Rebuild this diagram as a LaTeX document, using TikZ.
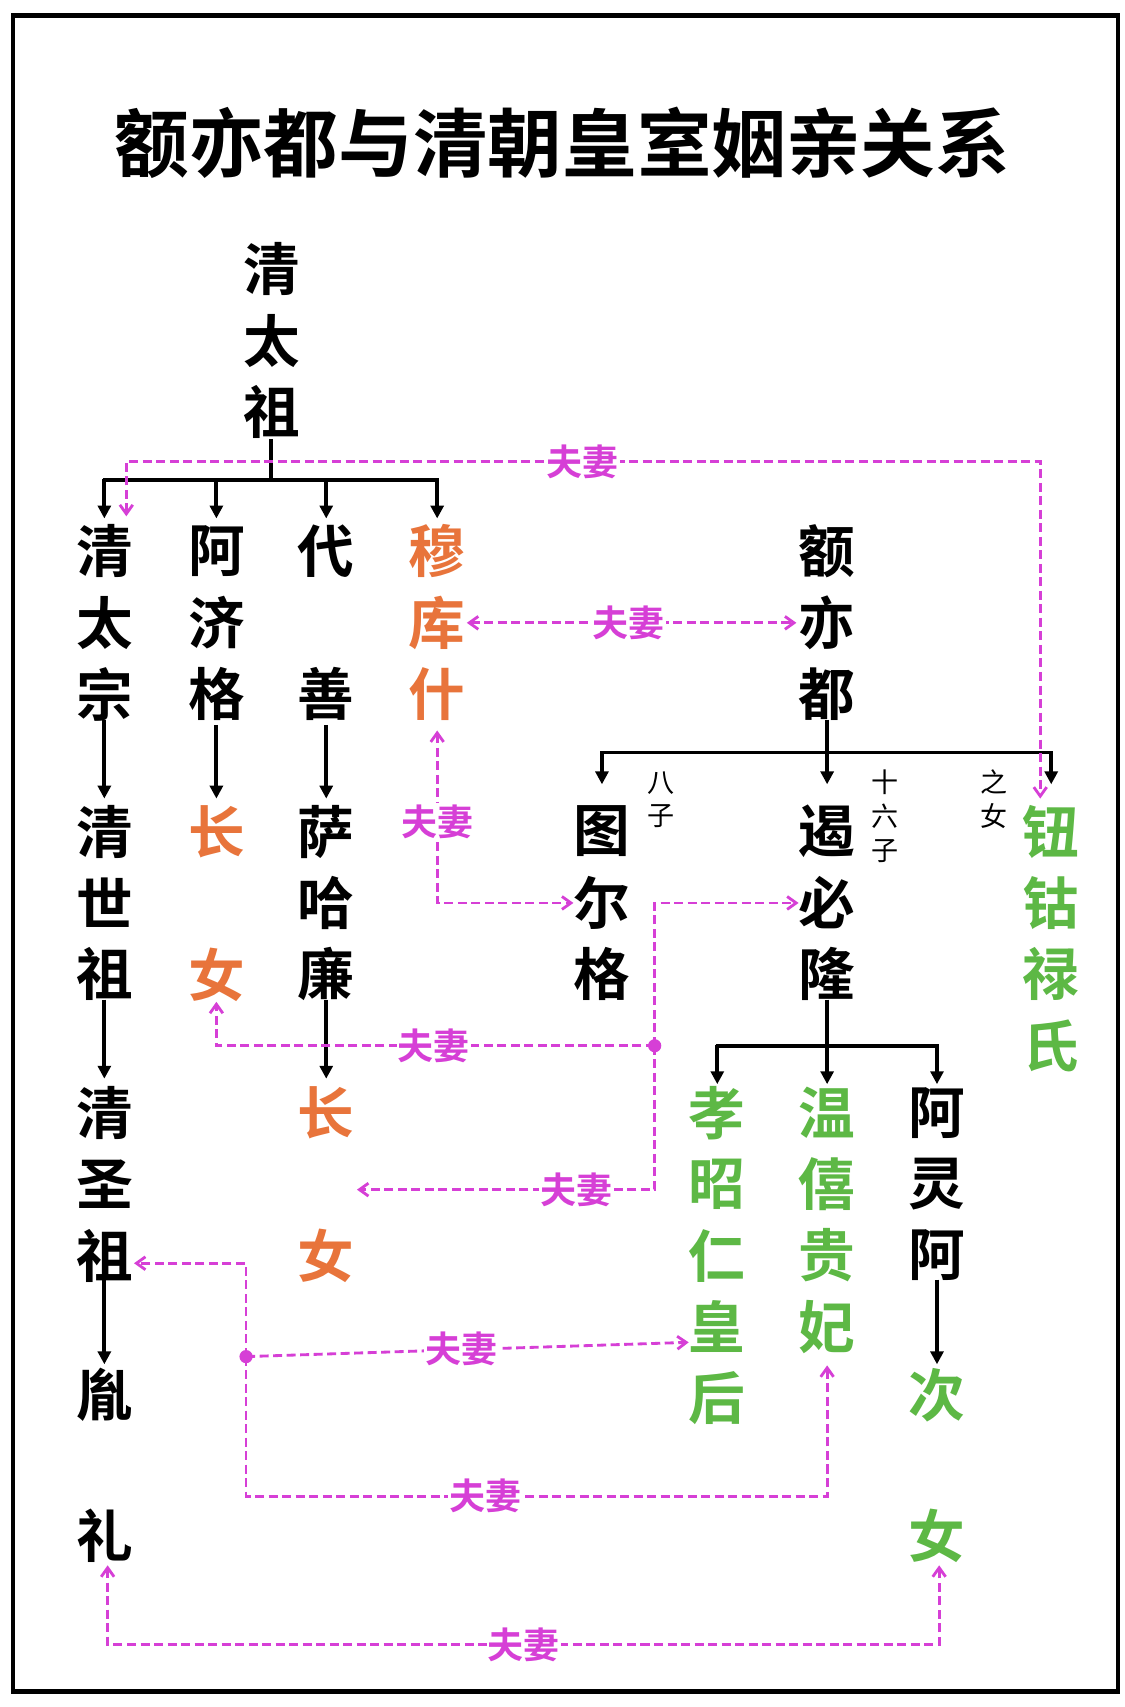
\documentclass[tikz,border=0pt]{standalone}
\usepackage{fontspec}
\newfontfamily\cjk{Noto Sans CJK SC}[BoldFont={* Bold}]
\usetikzlibrary{arrows.meta}
\definecolor{org}{HTML}{E8743B}
\definecolor{grn}{HTML}{5DB845}
\definecolor{mag}{HTML}{D63FD6}
\begin{document}
\begin{tikzpicture}[x=0.03cm,y=-0.03cm,
  ch/.style={font=\cjk\bfseries\fontsize{44}{44}\selectfont,inner sep=0pt},
  sm/.style={font=\cjk\fontsize{21}{21}\selectfont,inner sep=0pt},
  lab/.style={font=\cjk\bfseries\fontsize{28}{28}\selectfont,text=mag,fill=white,inner sep=1pt},
  kin/.style={line width=3pt,-{Triangle[length=10pt,width=10pt]}},
  kl/.style={line width=3pt},
  wed/.style={mag,line width=2.2pt,dash pattern=on 7pt off 3.5pt},
  wa/.style={-{Straight Barb[length=7pt,width=10pt]}},
  wb/.style={{Straight Barb[length=7pt,width=10pt]}-{Straight Barb[length=7pt,width=10pt]}}]
\useasboundingbox (0,0) rectangle (1024,1554);
\fill[white] (0,0) rectangle (1024,1554);
\draw[line width=3.5pt] (12,14) rectangle (1018,1540);
\node[font=\cjk\bfseries\fontsize{58}{58}\selectfont,inner sep=0pt] (title) at (512,130) {额亦都与清朝皇室姻亲关系};
\newcommand\stk[5]{\foreach \t [count=\i from 0] in {#4}{\node[ch,text=#5] (#1-\i) at (#2,#3+65*\i) {\t};}}
\stk{tz}{247}{245}{清,太,祖}{black}
\stk{tzong}{95}{502}{清,太,宗}{black}
\stk{sz}{95}{757}{清,世,祖}{black}
\stk{shz}{95}{1013}{清,圣,祖}{black}
\node[ch] (yin) at (95,1270) {胤};
\node[ch] (li) at (95,1398) {礼};
\stk{ajg}{197}{502}{阿,济,格}{black}
\node[ch,text=org] (zn1) at (197,757) {长};
\node[ch,text=org] (nv1) at (197,887) {女};
\node[ch] (dai) at (297,502) {代};
\node[ch] (shan) at (297,632) {善};
\stk{shl}{297}{757}{萨,哈,廉}{black}
\node[ch,text=org] (zn2) at (297,1013) {长};
\node[ch,text=org] (nv2) at (297,1143) {女};
\stk{mks}{398}{502}{穆,库,什}{org}
\stk{eyd}{753}{502}{额,亦,都}{black}
\stk{teg}{548}{757}{图,尔,格}{black}
\stk{ebl}{753}{757}{遏,必,隆}{black}
\stk{ngl}{957}{757}{钮,钴,禄,氏}{grn}
\stk{xz}{653}{1013}{孝,昭,仁,皇,后}{grn}
\stk{wx}{753}{1013}{温,僖,贵,妃}{grn}
\stk{ala}{853}{1013}{阿,灵,阿}{black}
\node[ch,text=grn] (ci) at (853,1270) {次};
\node[ch,text=grn] (nv3) at (853,1398) {女};
\node[sm] (bz1) at (602,713) {八}; \node[sm] (bz2) at (602,743) {子};
\node[sm] (sl1) at (806,712) {十}; \node[sm] (sl2) at (806,743) {六}; \node[sm] (sl3) at (806,775) {子};
\node[sm] (zn1s) at (905,712) {之}; \node[sm] (zn2s) at (905,743) {女};
\draw[kl] (247,400) -- (247,437);
\draw[kl] (93.5,437) -- (399.5,437);
\foreach \x in {95,197,297,398} \draw[kin] (\x,436) -- (\x,472);
\draw[kin] (95,655) -- (95,727); \draw[kin] (95,910) -- (95,982); \draw[kin] (95,1165) -- (95,1242);
\draw[kin] (197,660) -- (197,727);
\draw[kin] (297,660) -- (297,727); \draw[kin] (297,910) -- (297,982);
\draw[kl] (753,655) -- (753,685);
\draw[kl] (546.5,685) -- (958.5,685);
\foreach \x in {548,753,957} \draw[kin] (\x,684) -- (\x,714);
\draw[kl] (753,910) -- (753,952);
\draw[kl] (651.5,952) -- (854.5,952);
\foreach \x in {653,753,853} \draw[kin] (\x,951) -- (\x,987);
\draw[kin] (853,1165) -- (853,1242);
\draw[wed,wb] (115,470) -- (115,420) -- (947,420) -- (947,727);
\node[lab] (l1) at (530,420) {夫妻};
\draw[wed,wb] (425,567) -- (725,567);
\node[lab] (l2) at (572,567) {夫妻};
\draw[wed,wb] (398,665) -- (398,822) -- (522,822);
\node[lab] (l3) at (398,748) {夫妻};
\draw[wed,wa] (596,952) -- (596,822) -- (727,822);
\draw[wed,wa] (596,952) -- (197,952) -- (197,912);
\node[lab] (l4) at (395,952) {夫妻};
\draw[wed,wa] (596,952) -- (596,1083) -- (325,1083);
\node[lab] (l5) at (525,1083) {夫妻};
\fill[mag] (596,952) circle (6);
\draw[wed,wa] (224,1235) -- (627,1222);
\node[lab] (l6) at (420,1228) {夫妻};
\draw[wed,wa] (224,1235) -- (224,1150) -- (122,1150);
\draw[wed,wa] (224,1235) -- (224,1362) -- (753,1362) -- (753,1243);
\node[lab] (l7) at (442,1362) {夫妻};
\fill[mag] (224,1235) circle (6);
\draw[wed,wb] (98,1425) -- (98,1497) -- (855,1497) -- (855,1425);
\node[lab] (l8) at (477,1497) {夫妻};
\end{tikzpicture}
\end{document}
